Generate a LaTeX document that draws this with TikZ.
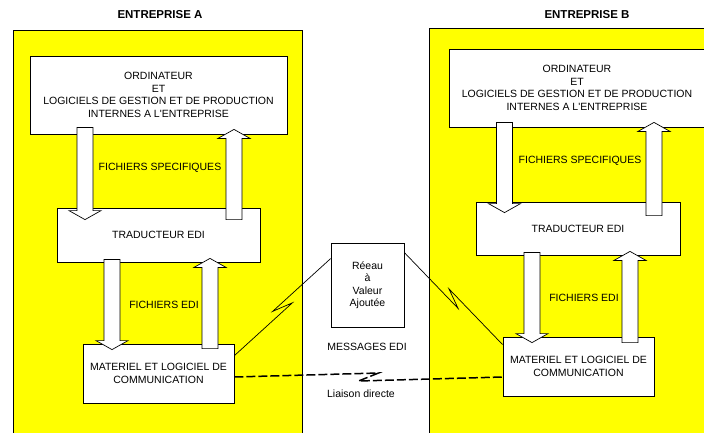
\documentclass[tikz,border=0pt]{standalone}
\usepackage{fontspec}
\setmainfont{Liberation Sans}
\usetikzlibrary{calc}

\definecolor{ediyellow}{RGB}{255,255,0}

% wide white arrow between two boxes, #1 = x, #2 = tail, #3 = tip
\newcommand{\flowarrow}[3]{%
  \draw[bigarrow] let \p1=#2, \p2=#3, \n1={9*sign(\y2-\y1)} in
    (#1-8,\y1) -- (#1-8,\y2-\n1) -- (#1-16,\y2-\n1) -- (#1,\y2)
    -- (#1+16,\y2-\n1) -- (#1+8,\y2-\n1) -- (#1+8,\y1) -- cycle;}

\begin{document}
\begin{tikzpicture}
        [
        x=1pt, y=1pt,
        every node/.style={font=\fontsize{10.5pt}{12.5pt}\selectfont, align=center},
        frame/.style={draw, line width=0.8pt, fill=ediyellow},
        box/.style={draw, line width=0.8pt, fill=white, inner sep=2pt},
        title/.style={font=\bfseries\fontsize{11.5pt}{13pt}\selectfont},
        bigarrow/.style={draw, line width=0.7pt, fill=white, line join=miter},
        link/.style={draw, line width=0.7pt},
        bolt/.style={to path={
            -- ($(\tikztostart)!.5!(\tikztotarget)!10pt!(\tikztotarget)!4pt!#1:(\tikztotarget)$)
            -- ($(\tikztostart)!.5!(\tikztotarget)!10pt!(\tikztostart)!4pt!#1:(\tikztostart)$)
            -- (\tikztotarget)}},
        bolt/.default=-90
        ]

        \useasboundingbox (0,0) rectangle (704,-432);
        \clip (0,0) rectangle (704,-432);

        % the two firms
        \draw[frame] (13,-30) rectangle (302,-440);
        \draw[frame] (429,-28) rectangle (720,-440);

        \node[title] (titleA) at (160,-15) {ENTREPRISE A};
        \node[title] (titleB) at (587,-15) {ENTREPRISE B};

        % firm A
        \node[box, minimum width=257pt, minimum height=78pt] (ordA) at (158.5,-95)
            {ORDINATEUR\\ET\\LOGICIELS DE GESTION ET DE PRODUCTION\\INTERNES A L\textquotesingle ENTREPRISE};
        \node[box, minimum width=203pt, minimum height=54pt] (tradA) at (158.5,-235) {TRADUCTEUR EDI};
        \node[box, minimum width=151pt, minimum height=59pt] (matA) at (158.5,-373.5)
            {MATERIEL ET LOGICIEL DE\\COMMUNICATION};

        % firm B
        \node[box, minimum width=256pt, minimum height=78pt] (ordB) at (577,-88)
            {ORDINATEUR\\ET\\LOGICIELS DE GESTION ET DE PRODUCTION\\INTERNES A L\textquotesingle ENTREPRISE};
        \node[box, minimum width=204pt, minimum height=53pt] (tradB) at (578,-228.5) {TRADUCTEUR EDI};
        \node[box, minimum width=151pt, minimum height=59pt] (matB) at (578.5,-366.5)
            {MATERIEL ET LOGICIEL DE\\COMMUNICATION};

        % network in between
        \node[box, minimum width=73pt, minimum height=84pt] (van) at (367.5,-285)
            {Réeau\\à\\Valeur\\Ajoutée};

        % file flows
        \flowarrow{85}{([yshift=7pt]ordA.south)}{([yshift=-12pt]tradA.north)}
        \flowarrow{234}{([yshift=-12pt]tradA.north)}{([yshift=5pt]ordA.south)}
        \flowarrow{112}{([yshift=3pt]tradA.south)}{([yshift=-6pt]matA.north)}
        \flowarrow{210}{([yshift=-5pt]matA.north)}{([yshift=4pt]tradA.south)}

        \flowarrow{504.5}{([yshift=5pt]ordB.south)}{([yshift=-11pt]tradB.north)}
        \flowarrow{654}{([yshift=-14pt]tradB.north)}{([yshift=5pt]ordB.south)}
        \flowarrow{532}{([yshift=3pt]tradB.south)}{([yshift=-6pt]matB.north)}
        \flowarrow{630}{([yshift=-6pt]matB.north)}{([yshift=4pt]tradB.south)}

        \node (specA) at (160,-168) {FICHIERS SPECIFIQUES};
        \node (ediA) at (164,-305) {FICHIERS EDI};
        \node (specB) at (580,-161) {FICHIERS SPECIFIQUES};
        \node (ediB) at (584,-298) {FICHIERS EDI};

        % links
        \draw[link] ([yshift=-16pt]van.north west) to[bolt] ([yshift=-12pt]matA.north east);
        \draw[link] ([yshift=-10pt]van.north east) to[bolt] ([yshift=-8pt]matB.north west);
        \draw[link, line width=1.5pt, dash pattern=on 9pt off 3pt]
            ([yshift=-3.5pt]matA.east) to[bolt=90] ([yshift=-10.5pt]matB.west);

        \node (msg) at (367,-347) {MESSAGES EDI};
        \node (direct) at (361,-394) {Liaison directe};

    \end{tikzpicture}
\end{document}
